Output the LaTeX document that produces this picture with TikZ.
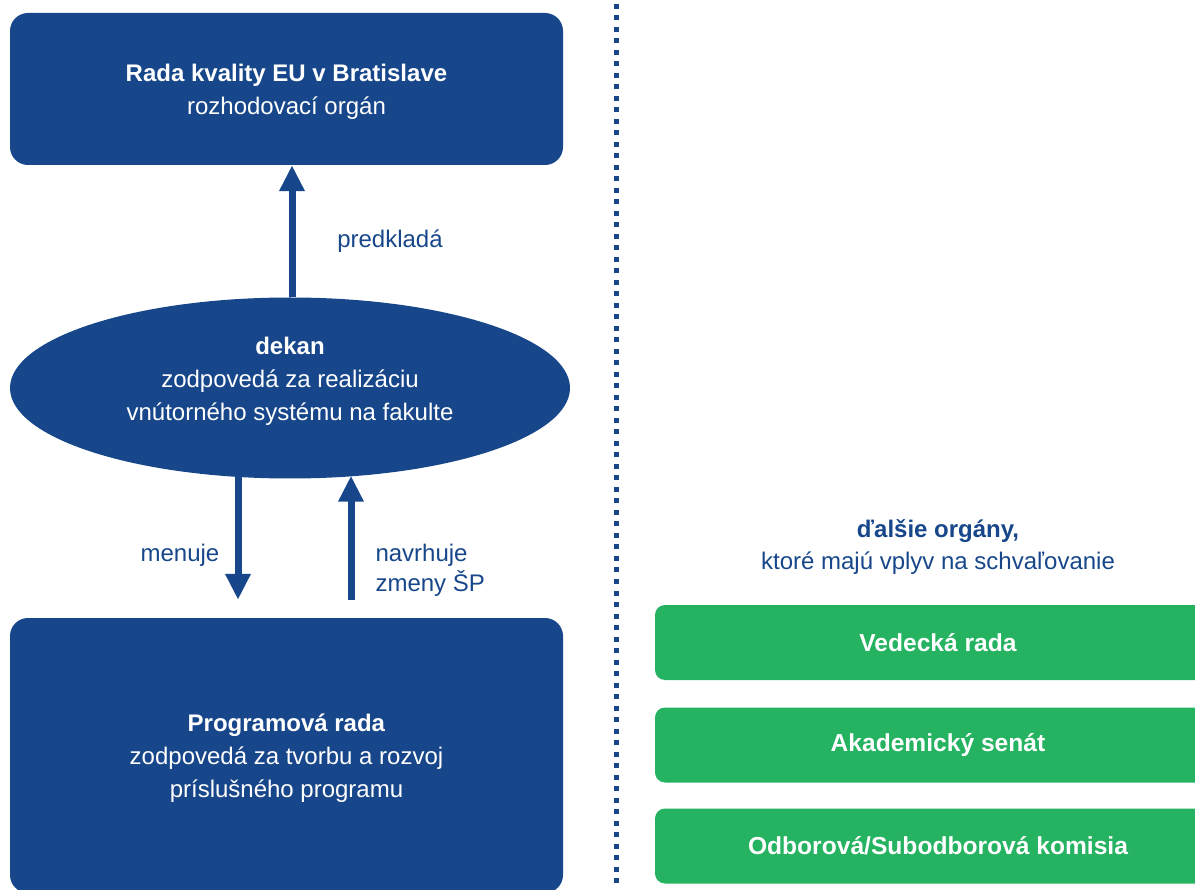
\documentclass[tikz,border=0pt]{standalone}
\usepackage{fontspec}
\setmainfont{Liberation Sans}
\usetikzlibrary{shapes.geometric,arrows.meta,calc}
\definecolor{eublue}{RGB}{23,71,138}
\definecolor{eugreen}{RGB}{37,179,97}

\begin{document}
\begin{tikzpicture}[x=1pt, y=-1pt,
        box/.style={rectangle, rounded corners=18pt, fill=eublue, text=white, minimum width=553pt, text depth=0pt, align=center, font=\fontsize{24}{33}\selectfont},
        oval/.style={ellipse, fill=eublue, text=white, minimum width=560pt, minimum height=181pt, inner sep=0pt, align=center, font=\fontsize{24}{33}\selectfont},
        organ/.style={rectangle, rounded corners=10pt, fill=eugreen, text=white, minimum width=566pt, minimum height=75pt, font=\bfseries\fontsize{24.6}{28}\selectfont},
        edgelabel/.style={text=eublue, align=left, font=\fontsize{24}{30}\selectfont},
        arrow/.style={eublue, line width=7pt, -{Triangle[length=26pt,width=24pt]}},
        divider/.style={eublue, line width=5pt, dash pattern=on 5pt off 6.5pt}
    ]
        \useasboundingbox (0,0) rectangle (1195,890);
        \clip (0,0) rectangle (1195,890);

        % Boxes
        \node[box, minimum height=152pt] (rada) at (286.5,89) {
            \textbf{Rada kvality EU v Bratislave}\\
            rozhodovací orgán
        };

        \node[oval, text depth=19pt] (dekan) at (290,388) {
            \textbf{dekan}\\
            zodpovedá za realizáciu\\
            vnútorného systému na fakulte
        };

        \node[box, minimum height=275pt] (prog) at (286.5,755.5) {
            \textbf{Programová rada}\\
            zodpovedá za tvorbu a rozvoj\\
            príslušného programu
        };

        % Other bodies
        \node[edgelabel, align=center, font=\fontsize{24}{32}\selectfont] (dalsie) at (938,547) {
            \textbf{ďalšie orgány,}\\
            ktoré majú vplyv na schvaľovanie
        };
        \node[organ] (vedecka) at (938,642.5) {Vedecká rada};
        \node[organ] (senat) at (938,745) {Akademický senát};
        \node[organ] (komisia) at (938,846) {Odborová/Subodborová komisia};

        % Separator
        \coordinate (septop) at (616,4);
        \coordinate (sepbot) at (616,892);
        \draw[divider] (septop) -- (sepbot);

        % Arrows
        \draw[arrow] ($(dekan.north)+(2,0)$) -- ($(dekan.north |- rada.south)+(2,0)$);
        \draw[arrow] ($(dekan.south)+(-52,-4)$) -- ($(dekan.south |- prog.north)+(-52,-18)$);
        \draw[arrow] ($(dekan.south |- prog.north)+(61,-18)$) -- ($(dekan.south)+(61,-3)$);

        % Labels
        \node[edgelabel] (lblpredklada) at (390,241) {predkladá};
        \node[edgelabel] (lblmenuje) at (180,555) {menuje};
        \node[edgelabel, anchor=west] (lblnavrhuje) at (372,570) {navrhuje\\zmeny ŠP};
    \end{tikzpicture}
\end{document}
